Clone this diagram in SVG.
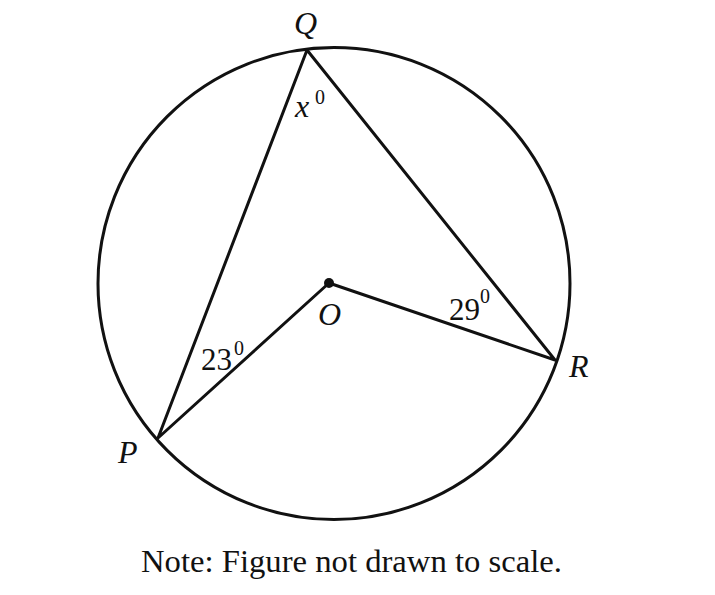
<svg xmlns="http://www.w3.org/2000/svg" width="715" height="595" viewBox="0 0 715 595">
<style>
.ln{stroke:#111;stroke-width:3;fill:none;stroke-linejoin:round;stroke-linecap:round}
.lb{font-family:"Liberation Serif",serif;font-style:italic;font-size:32px;fill:#111}
.nm{font-family:"Liberation Serif",serif;font-size:31px;fill:#111}
.sup{font-family:"Liberation Serif",serif;font-size:20px;fill:#111}
</style>
<rect width="715" height="595" fill="#fff"/>
<g id="circle"><circle class="ln" cx="334" cy="283.5" r="236"/></g>
<g id="connectors">
<polyline class="ln" points="158,438 307,50 555,360 329,283 158,438"/>
</g>
<g id="O"><circle cx="329" cy="283" r="5" fill="#111"/><text class="lb" x="318" y="325">O</text></g>
<g id="Q"><text class="lb" x="294" y="34">Q</text></g>
<g id="P"><text class="lb" x="118" y="463">P</text></g>
<g id="R"><text class="lb" x="569" y="377">R</text></g>
<g id="angle-x"><text class="lb" x="295" y="117">x</text><text class="sup" x="315" y="104">0</text></g>
<g id="angle-23"><text class="nm" x="201" y="370">23</text><text class="sup" x="234" y="355">0</text></g>
<g id="angle-29"><text class="nm" x="449" y="320">29</text><text class="sup" x="480" y="303">0</text></g>
<text class="nm" x="141" y="572" font-size="32" textLength="421" lengthAdjust="spacingAndGlyphs">Note: Figure not drawn to scale.</text>
</svg>
